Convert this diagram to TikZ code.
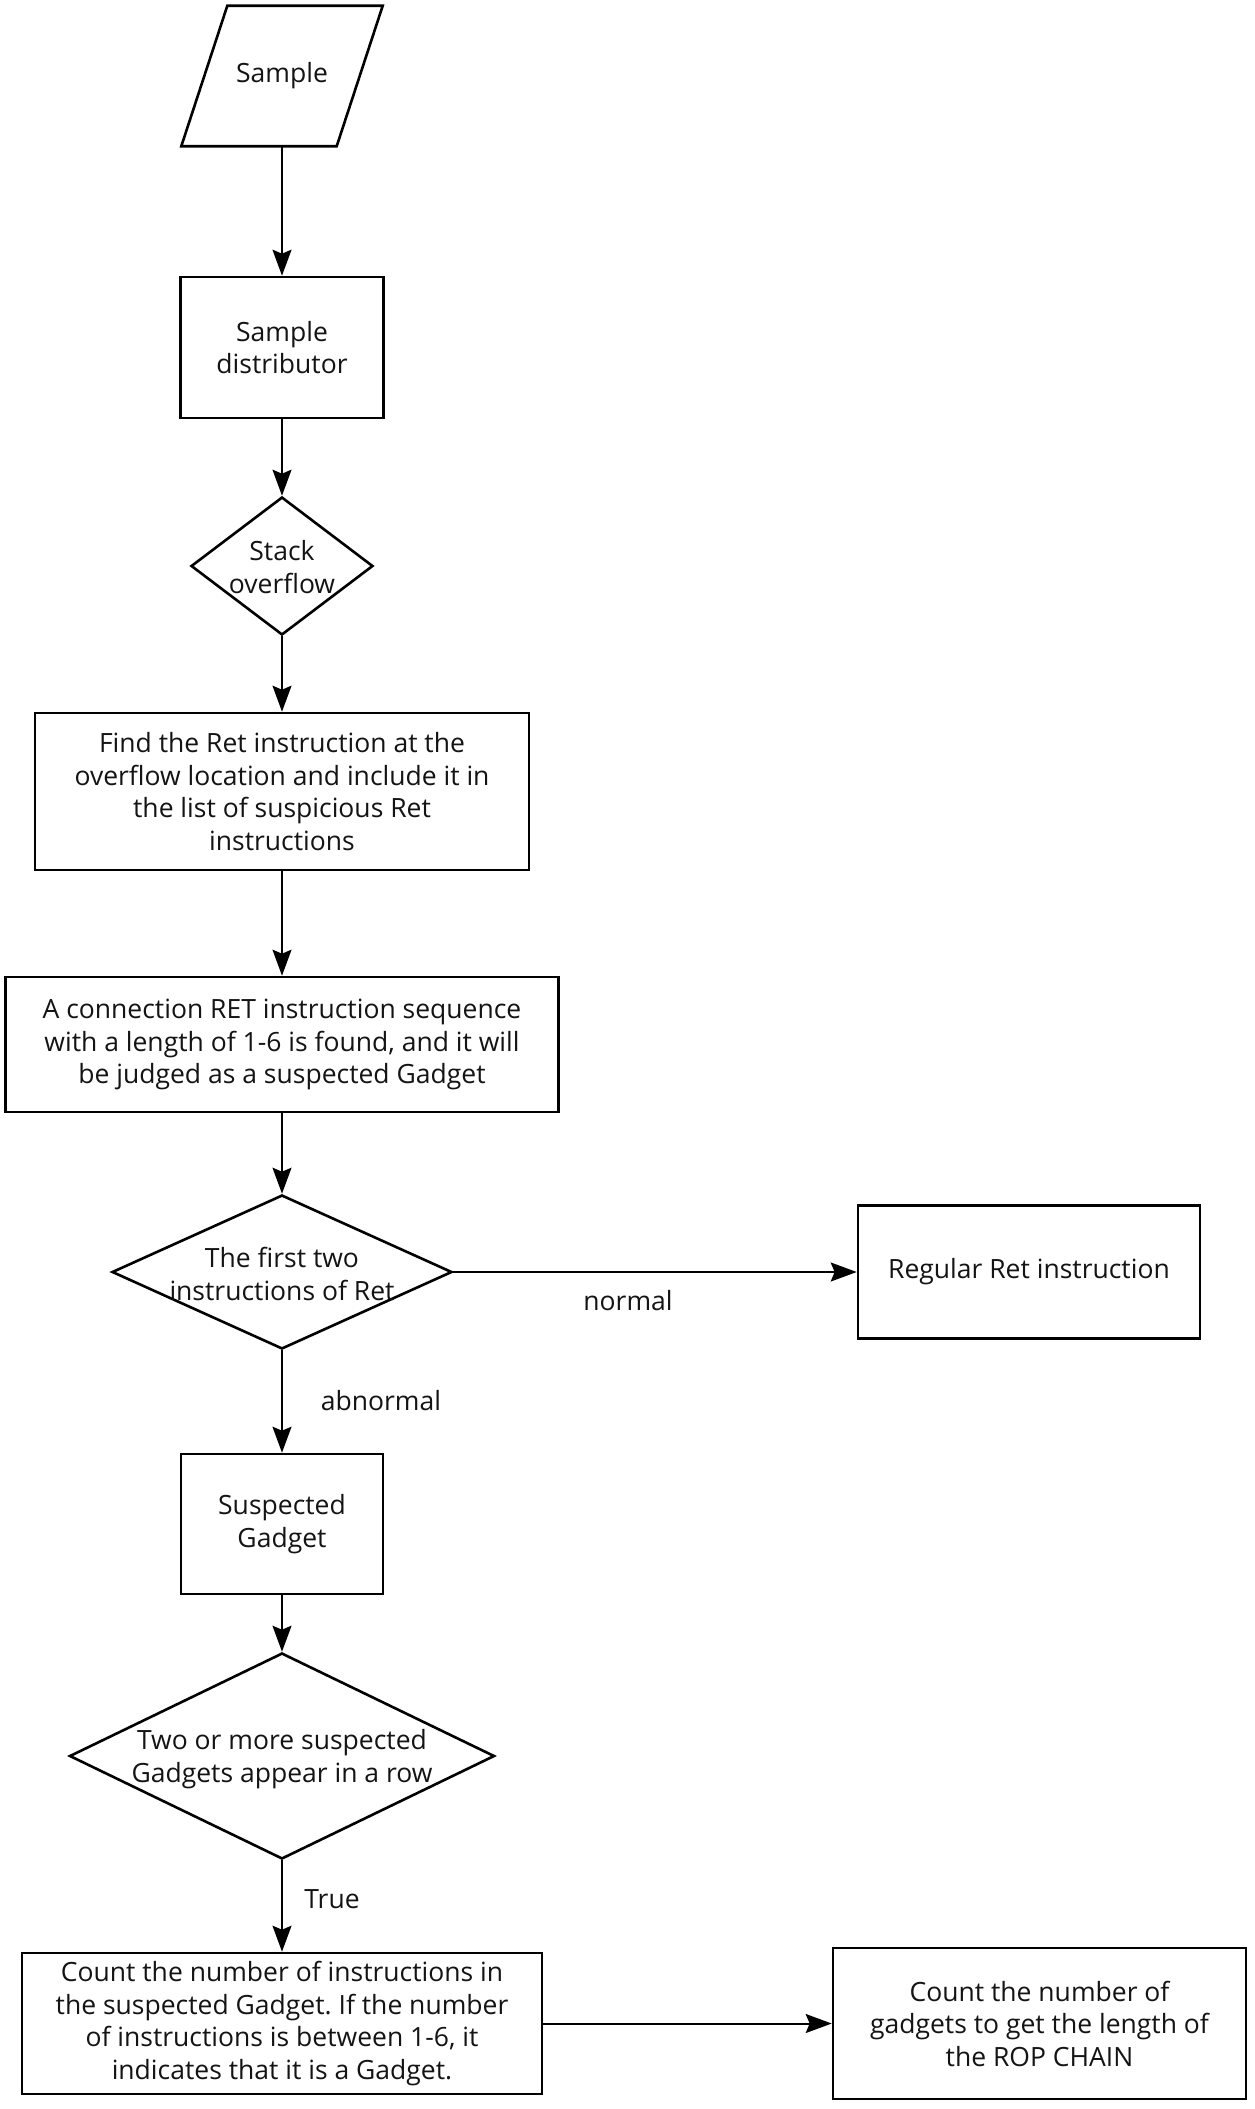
\documentclass[tikz,border=0pt]{standalone}
\usepackage{fontspec}
\setmainfont{Open Sans}
\usetikzlibrary{arrows.meta,shapes.geometric}
\begin{document}
\begin{tikzpicture}[x=1pt,y=-1pt,
  every node/.style={font=\fontsize{26.5}{32.5}\selectfont\frenchspacing, text=black!92, align=center},
  box/.style={draw=black, line width=2.6pt, inner sep=0pt},
  dia/.style={draw=black, line width=2.6pt, diamond, inner sep=0pt},
  arr/.style={draw=black, line width=2pt, -{Stealth[length=26pt,width=19pt,inset=4pt]}},
  lbl/.style={inner sep=0pt}]
\fill[white] (0,0) rectangle (1255,2109);
% Sample (parallelogram)
\node[inner sep=0pt, minimum width=155, minimum height=140] (sample) at (282,76) {Sample};
\draw[line width=2.6pt, line join=miter]
  ([xshift=23pt]sample.north west) -- ([xshift=23pt]sample.north east)
  -- ([xshift=-23pt]sample.south east) -- ([xshift=-23pt]sample.south west) -- cycle;
\node[box, minimum width=203, minimum height=141] (dist) at (282,347.5) {Sample\\distributor};
\node[dia, minimum width=182, minimum height=138] (d1) at (282,566) {};
\node[lbl] (d1t) at (282,567) {Stack\\overflow};
\node[box, minimum width=494, minimum height=157] (find) at (282,791.5)
  {Find the Ret instruction at the\\overflow location and include it in\\the list of suspicious Ret\\instructions};
\node[box, minimum width=553, minimum height=135] (conn) at (282,1044.5)
  {A connection RET instruction sequence\\with a length of 1-6 is found, and it will\\be judged as a suspected Gadget};
\node[dia, minimum width=340, minimum height=154] (d2) at (282,1272) {};
\node[lbl] (d2t) at (282,1274) {The first two\\instructions of Ret};
\node[box, minimum width=342, minimum height=133] (reg) at (1029,1272) {Regular Ret instruction};
\node[box, minimum width=202, minimum height=140] (sus) at (282,1524) {Suspected\\Gadget};
\node[dia, minimum width=425, minimum height=206] (d3) at (282,1756) {};
\node[lbl] (d3t) at (282,1759) {Two or more suspected\\Gadgets appear in a row};
\node[box, minimum width=520, minimum height=141] (count) at (282,2023.5)
  {Count the number of instructions in\\the suspected Gadget. If the number\\of instructions is between 1-6, it\\indicates that it is a Gadget.};
\node[box, minimum width=413, minimum height=151] (rop) at (1039.5,2023.5)
  {Count the number of\\gadgets to get the length of\\the ROP CHAIN};
% connectors
\draw[arr] (sample.south) -- (dist.north);
\draw[arr] (dist.south) -- (d1.north);
\draw[arr] (d1.south) -- (find.north);
\draw[arr] (find.south) -- (conn.north);
\draw[arr] (conn.south) -- (d2.north);
\draw[arr] (d2.east) -- (reg.west);
\draw[arr] (d2.south) -- (sus.north);
\draw[arr] (sus.south) -- (d3.north);
\draw[arr] (d3.south) -- (count.north);
\draw[arr] (count.east) -- (rop.west);
% labels
\node[lbl] (lnormal) at (628,1301) {normal};
\node[lbl] (labn) at (381,1401) {abnormal};
\node[lbl] (ltrue) at (332,1899) {True};
\end{tikzpicture}
\end{document}
